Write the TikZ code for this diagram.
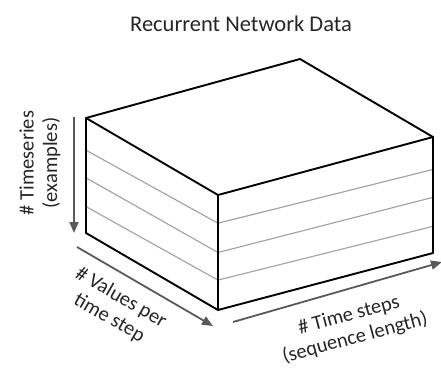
\documentclass[tikz,border=0pt]{standalone}
\usepackage{fontspec}
\setmainfont{Carlito}
\usetikzlibrary{arrows.meta,calc}
\begin{document}
\begin{tikzpicture}[x=1pt,y=-1pt, edge/.style = {black,line width=1.9pt,line join=round},
		layer/.style = {gray!75,line width=1.1pt}, axis/.style = {black!65,line width=1.8pt,-{Triangle[length=11pt,width=9pt]}},
		axislabel/.style = {text=black!85,align=center,font=\fontsize{20.5}{23.5}\selectfont,inner sep=0pt} ]
    \useasboundingbox (0,0) rectangle (441,367);
    \node [text=black!85,font=\fontsize{22.5}{26}\selectfont] (title) at (241,24) {Recurrent Network Data};
    % corners of the box
    \coordinate (tl) at (86,118);
    \coordinate (tb) at (300,59);
    \coordinate (tr) at (433,137);
    \coordinate (ft) at (218,195);
    \coordinate (fb) at (218,310);
    \coordinate (bl) at (86,233);
    \coordinate (br) at (433,253);
    % layers
    \foreach \s/\f in {0.28/0.245, 0.52/0.5, 0.77/0.74}
      \draw [layer] ($(tl)!\s!(bl)$) -- ($(ft)!\f!(fb)$) -- ($(tr)!\s!(br)$);
    \draw [edge] (tl) -- (tb) -- (tr) -- (ft) -- cycle;
    \draw [edge] (tl) -- (bl) -- (fb) -- (br) -- (tr);
    \draw [edge] (ft) -- (fb);
    % axes
    \coordinate (v0) at (74,117);
    \coordinate (v1) at (74,233);
    \coordinate (d0) at (77,247);
    \coordinate (d1) at (213,326);
    \coordinate (h0) at (233,322);
    \coordinate (h1) at (442,262);
    \draw [axis] (v0) -- (v1);
    \draw [axis] (d0) -- (d1);
    \draw [axis] (h0) -- (h1);
    \node [axislabel,rotate=90] (series) at (40,163) {\# Timeseries\\(examples)};
    \node [axislabel,rotate=-30] (values) at (115,308) {\# Values per\\time step};
    \node [axislabel,rotate=15] (steps) at (352,327) {\# Time steps\\(sequence length)};
\end{tikzpicture}
\end{document}
